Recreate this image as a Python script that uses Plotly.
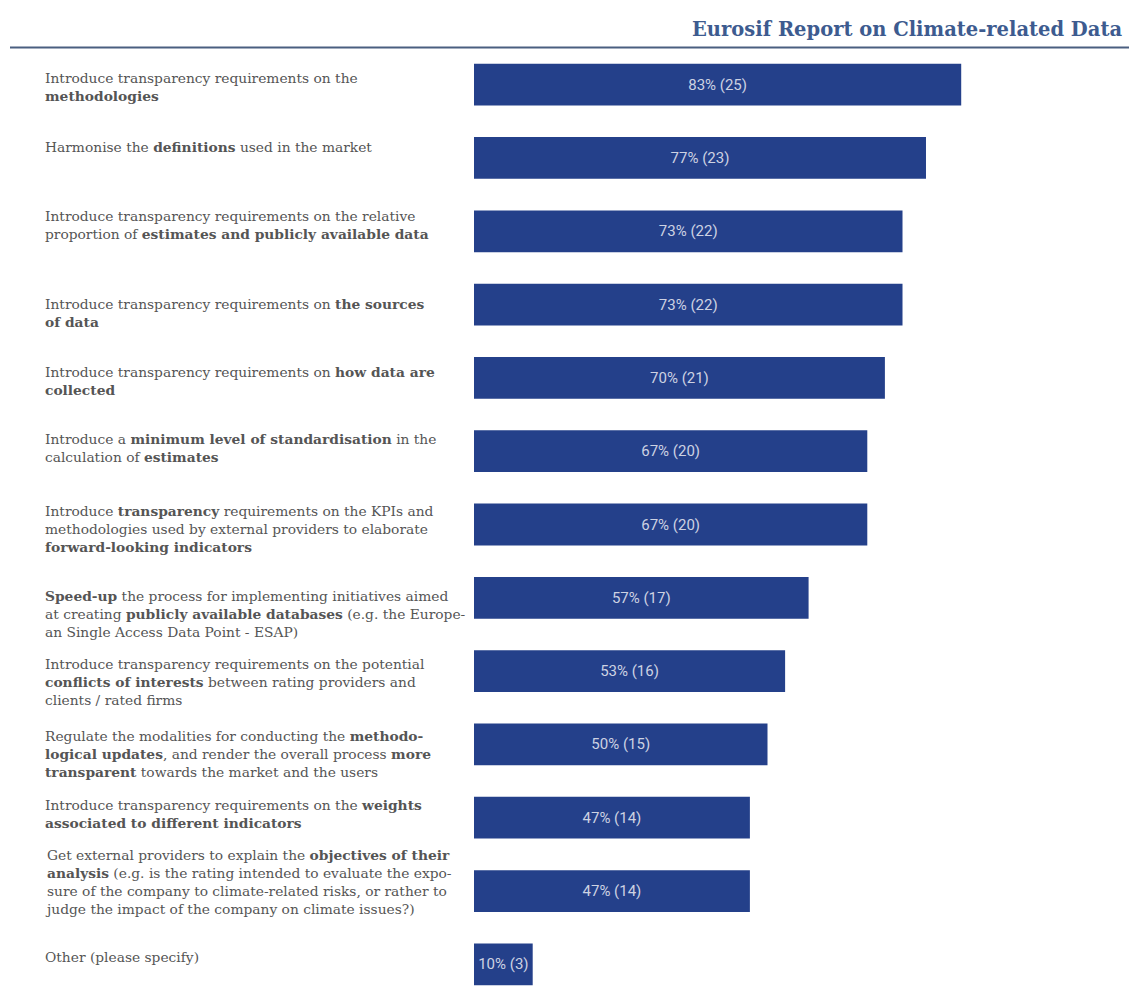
import plotly.graph_objects as go

labels = [
    "Introduce transparency requirements on the<br><b>methodologies</b>",
    "Harmonise the <b>definitions</b> used in the market",
    "Introduce transparency requirements on the relative<br>proportion of <b>estimates and publicly available data</b>",
    "Introduce transparency requirements on <b>the sources</b><br><b>of data</b>",
    "Introduce transparency requirements on <b>how data are</b><br><b>collected</b>",
    "Introduce a <b>minimum level of standardisation</b> in the<br>calculation of <b>estimates</b>",
    "Introduce <b>transparency</b> requirements on the KPIs and<br>methodologies used by external providers to elaborate<br><b>forward-looking indicators</b>",
    "<b>Speed-up</b> the process for implementing initiatives aimed<br>at creating <b>publicly available databases</b> (e.g. the Europe-<br>an Single Access Data Point - ESAP)",
    "Introduce transparency requirements on the potential<br><b>conflicts of interests</b> between rating providers and<br>clients / rated firms",
    "Regulate the modalities for conducting the <b>methodo-</b><br><b>logical updates</b>, and render the overall process <b>more</b><br><b>transparent</b> towards the market and the users",
    "Introduce transparency requirements on the <b>weights</b><br><b>associated to different indicators</b>",
    "Get external providers to explain the <b>objectives of their</b><br><b>analysis</b> (e.g. is the rating intended to evaluate the expo-<br>sure of the company to climate-related risks, or rather to<br>judge the impact of the company on climate issues?)",
    "Other (please specify)",
]
percents = [83, 77, 73, 73, 70, 67, 67, 57, 53, 50, 47, 47, 10]
counts = [25, 23, 22, 22, 21, 20, 20, 17, 16, 15, 14, 14, 3]
title_text = "Eurosif Report on Climate-related Data"

# per-label vertical nudge (px, positive = up) to mimic the original layout
label_shift = [-2, 11, 6, -8, -3, 3, -4, -16, -11, -10, 4, 9, 7]

n = len(labels)
pos = list(range(n))
bar_text = [f"{p}% ({c})" for p, c in zip(percents, counts)]

W, H = 1129, 990
L, R, T, B = 474, 68, 48, 0
plot_w = W - L - R
plot_h = H - T - B

fig = go.Figure()
fig.add_trace(go.Bar(
    x=percents, y=pos, orientation="h",
    marker=dict(color="#24408a", line=dict(width=0)),
    width=0.57,
    text=bar_text, textposition="inside", insidetextanchor="middle",
    textfont=dict(family="Roboto", size=15, color="#cdd2e2"),
    constraintext="none",
    hoverinfo="skip",
))

for i, lab in enumerate(labels):
    fig.add_annotation(
        x=0, xref="paper", xshift=-(L - 43), y=pos[i], yref="y",
        text=lab, showarrow=False, xanchor="left", yanchor="middle",
        align="left", yshift=label_shift[i],
        font=dict(family="DejaVu Serif", size=13.8, color="#555555"),
    )

fig.add_annotation(
    x=1, xref="paper", xshift=R - 5, y=1, yref="paper",
    yshift=T - 16, text=f"<b>{title_text}</b>", showarrow=False,
    xanchor="right", yanchor="top",
    font=dict(family="DejaVu Serif", size=19.5, color="#3d5b8f"),
)

fig.add_shape(
    type="line", xref="paper", yref="paper",
    x0=(10 - L) / plot_w, x1=(W - L) / plot_w,
    y0=1 + 0.5 / plot_h, y1=1 + 0.5 / plot_h,
    line=dict(color="#4a5f80", width=2),
)

fig.update_layout(
    width=W, height=H,
    margin=dict(l=L, r=R, t=T, b=B, pad=0),
    paper_bgcolor="white", plot_bgcolor="white",
    showlegend=False,
    xaxis=dict(range=[0, 100], visible=False, fixedrange=True),
    yaxis=dict(range=[12.35, -0.5], visible=False, fixedrange=True),
    bargap=0.4,
)

fig.write_html("out.html")
